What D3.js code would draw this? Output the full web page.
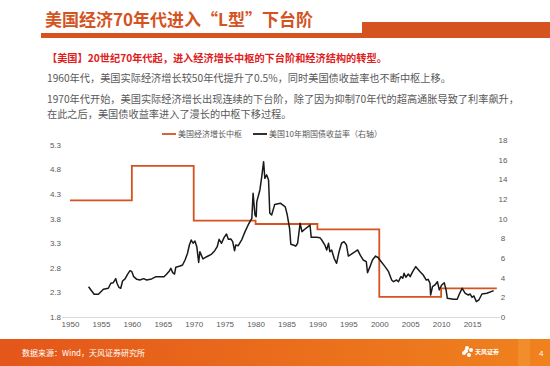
<!DOCTYPE html>
<html><head><meta charset="utf-8">
<script src="https://cdn.jsdelivr.net/npm/d3@7"></script>
<style>
html,body{margin:0;padding:0;background:#fff;}
svg{display:block;}
text{font-family:"Noto Sans CJK SC","Noto Sans",sans-serif;}
.num{font-family:"Liberation Sans",Arial,sans-serif;}
</style></head>
<body>
<svg id="c" width="550" height="366"></svg>
<script>
// ---------- data ----------
const titleText = "美国经济70年代进入“L型”下台阶";
const headline = "【美国】20世纪70年代起，进入经济增长中枢的下台阶和经济结构的转型。";
const bodyLines = [
  "1960年代，美国实际经济增长较50年代提升了0.5%，同时美国债收益率也不断中枢上移。",
  "1970年代开始，美国实际经济增长出现连续的下台阶，除了因为抑制70年代的超高通胀导致了利率飙升，",
  "在此之后，美国债收益率进入了漫长的中枢下移过程。"
];
const seriesNames = ["美国经济增长中枢", "美国10年期国债收益率（右轴）"];
const sourceText = "数据来源：Wind，天风证券研究所";

// growth centre by decade (left axis)
const decadeStart = [1950, 1960, 1970, 1980, 1990, 2000, 2010, 2019];
const growthCentre = [4.17, 4.87, 3.76, 3.69, 3.58, 2.21, 2.38, 2.38];

// US 10y treasury yield (right axis)
const yieldYears = [1953.0,1953.9,1954.6,1955.4,1956.2,1956.6,1957.0,1957.4,1957.6,1957.9,1958.2,1958.5,1958.9,1959.3,1959.7,1960.0,1960.3,1960.8,1961.3,1961.9,1962.4,1963.2,1963.9,1964.6,1965.2,1965.6,1966.1,1966.3,1966.6,1966.9,1967.1,1967.8,1968.2,1968.6,1969.0,1969.3,1969.6,1969.9,1970.2,1970.5,1970.8,1971.0,1971.5,1972.1,1972.9,1973.4,1973.8,1974.1,1974.5,1974.9,1975.3,1975.6,1976.0,1976.3,1976.6,1976.8,1977.2,1977.8,1978.3,1978.8,1979.4,1979.6,1979.9,1980.1,1980.2,1980.7,1981.0,1981.3,1981.5,1981.8,1982.1,1982.3,1982.6,1983.1,1984.0,1984.8,1985.1,1985.5,1985.7,1986.2,1986.5,1986.8,1987.2,1987.5,1988.0,1988.5,1988.8,1989.0,1989.9,1990.4,1990.7,1991.2,1991.5,1991.8,1992.0,1992.3,1992.7,1993.1,1993.5,1993.9,1994.3,1994.7,1995.0,1995.5,1996.1,1996.5,1996.9,1997.4,1997.9,1998.1,1998.5,1998.9,1999.4,1999.8,2000.1,2000.9,2001.5,2002.0,2002.3,2002.8,2003.1,2003.5,2003.8,2004.0,2004.3,2004.7,2005.0,2005.4,2005.9,2006.6,2007.1,2007.6,2007.9,2008.2,2008.3,2008.6,2009.0,2009.4,2009.7,2010.1,2010.5,2010.8,2011.0,2012.0,2012.6,2013.0,2013.4,2013.9,2014.4,2014.7,2015.0,2015.3,2015.7,2016.1,2016.6,2017.4,2018.5];
const yieldValues = [3.08,2.31,2.31,2.82,2.92,3.43,3.49,3.90,3.43,3.02,2.92,3.66,3.87,4.34,4.71,4.61,4.10,3.83,3.76,3.90,3.76,3.87,4.10,4.10,4.10,4.34,4.71,4.95,4.51,4.37,5.06,5.19,5.29,5.80,6.48,7.32,7.83,7.50,7.73,7.15,5.55,6.64,5.90,6.13,6.40,6.74,7.15,7.90,7.50,8.07,8.44,7.90,7.93,7.66,6.74,7.32,7.25,7.90,8.68,9.36,10.04,12.58,10.38,10.20,11.73,12.92,14.27,15.80,14.10,14.45,13.94,10.55,10.38,11.45,11.57,11.20,10.45,9.00,7.40,7.30,7.20,7.50,9.53,8.68,8.95,9.19,9.36,8.10,8.10,8.07,7.83,7.32,6.82,7.50,6.64,6.82,5.97,5.46,6.64,7.50,7.66,7.32,6.20,6.40,6.64,6.82,6.31,5.80,5.63,4.50,5.12,5.80,6.20,6.05,5.80,5.15,4.61,3.76,3.59,3.76,3.59,4.10,3.94,4.44,4.04,4.37,4.10,4.61,5.12,4.61,4.27,3.76,3.83,3.43,2.24,3.08,3.26,3.59,2.75,3.26,3.49,2.75,1.90,1.80,1.80,2.41,2.92,2.41,2.24,2.34,2.00,2.14,1.56,1.73,2.34,2.41,2.68];

const xTicks = [1950,1955,1960,1965,1970,1975,1980,1985,1990,1995,2000,2005,2010,2015];
const leftTicks = [1.8,2.3,2.8,3.3,3.8,4.3,4.8,5.3];
const rightTicks = [0,2,4,6,8,10,12,14,16,18];

// ---------- drawing ----------
const svg = d3.select("#c");
const ORANGE = "#d4531f";

// title
svg.append("text").attr("x", 45).attr("y", 26).attr("font-size", 17).attr("font-weight", "bold")
  .attr("fill", "#d4531f").text(titleText);
svg.append("rect").attr("x", 41).attr("y", 33).attr("width", 321).attr("height", 5).attr("fill", ORANGE);
svg.append("rect").attr("x", 362).attr("y", 22).attr("width", 188).attr("height", 16).attr("fill", ORANGE);

svg.append("text").attr("x", 47).attr("y", 62).attr("font-size", 10.2).attr("font-weight", "bold")
  .attr("fill", "#e0201c").text(headline);
const bodyY = [82, 103, 118];
bodyLines.forEach((t, i) => {
  svg.append("text").attr("x", 47).attr("y", bodyY[i]).attr("font-size", 10.2)
    .attr("fill", "#595959").text(t);
});

// scales
const x = d3.scaleLinear().domain([1950, 2019]).range([70, 496.8]);
const yL = d3.scaleLinear().domain([1.8, 5.3]).range([317, 144.8]);
const yR = d3.scaleLinear().domain([0, 18]).range([317, 140]);

// bottom axis line
svg.append("line").attr("x1", 62).attr("x2", 500).attr("y1", 317.5).attr("y2", 317.5)
  .attr("stroke", "#d9d9d9").attr("stroke-width", 1);

// axes (labels only)
const axL = svg.append("g").attr("transform", "translate(61,0)")
  .call(d3.axisLeft(yL).tickValues(leftTicks).tickFormat(d3.format(".1f")).tickSize(0).tickPadding(0));
const axR = svg.append("g").attr("transform", "translate(503,0)")
  .call(d3.axisRight(yR).tickValues(rightTicks).tickSize(0).tickPadding(0));
axR.selectAll("text").attr("text-anchor", "middle");
const axB = svg.append("g").attr("transform", "translate(0,321)")
  .call(d3.axisBottom(x).tickValues(xTicks).tickFormat(d3.format("d")).tickSize(0).tickPadding(0));
[axL, axR, axB].forEach(g => {
  g.select(".domain").remove();
  g.selectAll("text").attr("class", "num").attr("font-size", 8).attr("fill", "#595959");
});

// growth centre step line
const stepLine = d3.line().x(d => x(d[0])).y(d => yL(d[1])).curve(d3.curveStepAfter);
svg.append("path").datum(decadeStart.map((d, i) => [d, growthCentre[i]]))
  .attr("d", stepLine).attr("fill", "none").attr("stroke", ORANGE).attr("stroke-width", 1.8);

// yield line
const yLine = d3.line().x(d => x(d[0])).y(d => yR(d[1]));
svg.append("path").datum(yieldYears.map((d, i) => [d, yieldValues[i]]))
  .attr("d", yLine).attr("fill", "none").attr("stroke", "#1a1a1a").attr("stroke-width", 1.5)
  .attr("stroke-linejoin", "round");

// legend
const lg = svg.append("g").attr("transform", "translate(162,134)");
lg.append("line").attr("x1", 0).attr("x2", 14).attr("stroke", ORANGE).attr("stroke-width", 1.8);
lg.append("text").attr("x", 16).attr("y", 3).attr("font-size", 8).attr("fill", "#595959").text(seriesNames[0]);
lg.append("line").attr("x1", 91).attr("x2", 105).attr("stroke", "#1a1a1a").attr("stroke-width", 1.8);
lg.append("text").attr("x", 107).attr("y", 3).attr("font-size", 8).attr("fill", "#595959").text(seriesNames[1]);

// footer
const defs = svg.append("defs");
const gr = defs.append("linearGradient").attr("id", "fg");
gr.append("stop").attr("offset", "0%").attr("stop-color", "#e4561a");
gr.append("stop").attr("offset", "100%").attr("stop-color", "#f0821e");
svg.append("rect").attr("x", 0).attr("y", 339).attr("width", 550).attr("height", 27).attr("fill", "url(#fg)");
svg.append("rect").attr("x", 518).attr("y", 339).attr("width", 12).attr("height", 27).attr("fill", "#f39a3a").attr("opacity", 0.5);
svg.append("text").attr("x", 22).attr("y", 356).attr("font-size", 8).attr("fill", "#fff").text(sourceText);
svg.append("text").attr("x", 539).attr("y", 356).attr("font-size", 8).attr("fill", "#fff").attr("class", "num").text("4");
// logo
const logo = svg.append("g").attr("transform", "translate(467,352)");
[[0,-4],[4,-2],[-3,1],[2,3],[-1,-1]].forEach(p => {
  logo.append("circle").attr("cx", p[0]).attr("cy", p[1]).attr("r", 2).attr("fill", "#fff");
});
logo.append("text").attr("x", 8).attr("y", 2).attr("font-size", 6).attr("font-weight", "bold").attr("fill", "#fff").text("天风证券");
</script>
</body></html>
